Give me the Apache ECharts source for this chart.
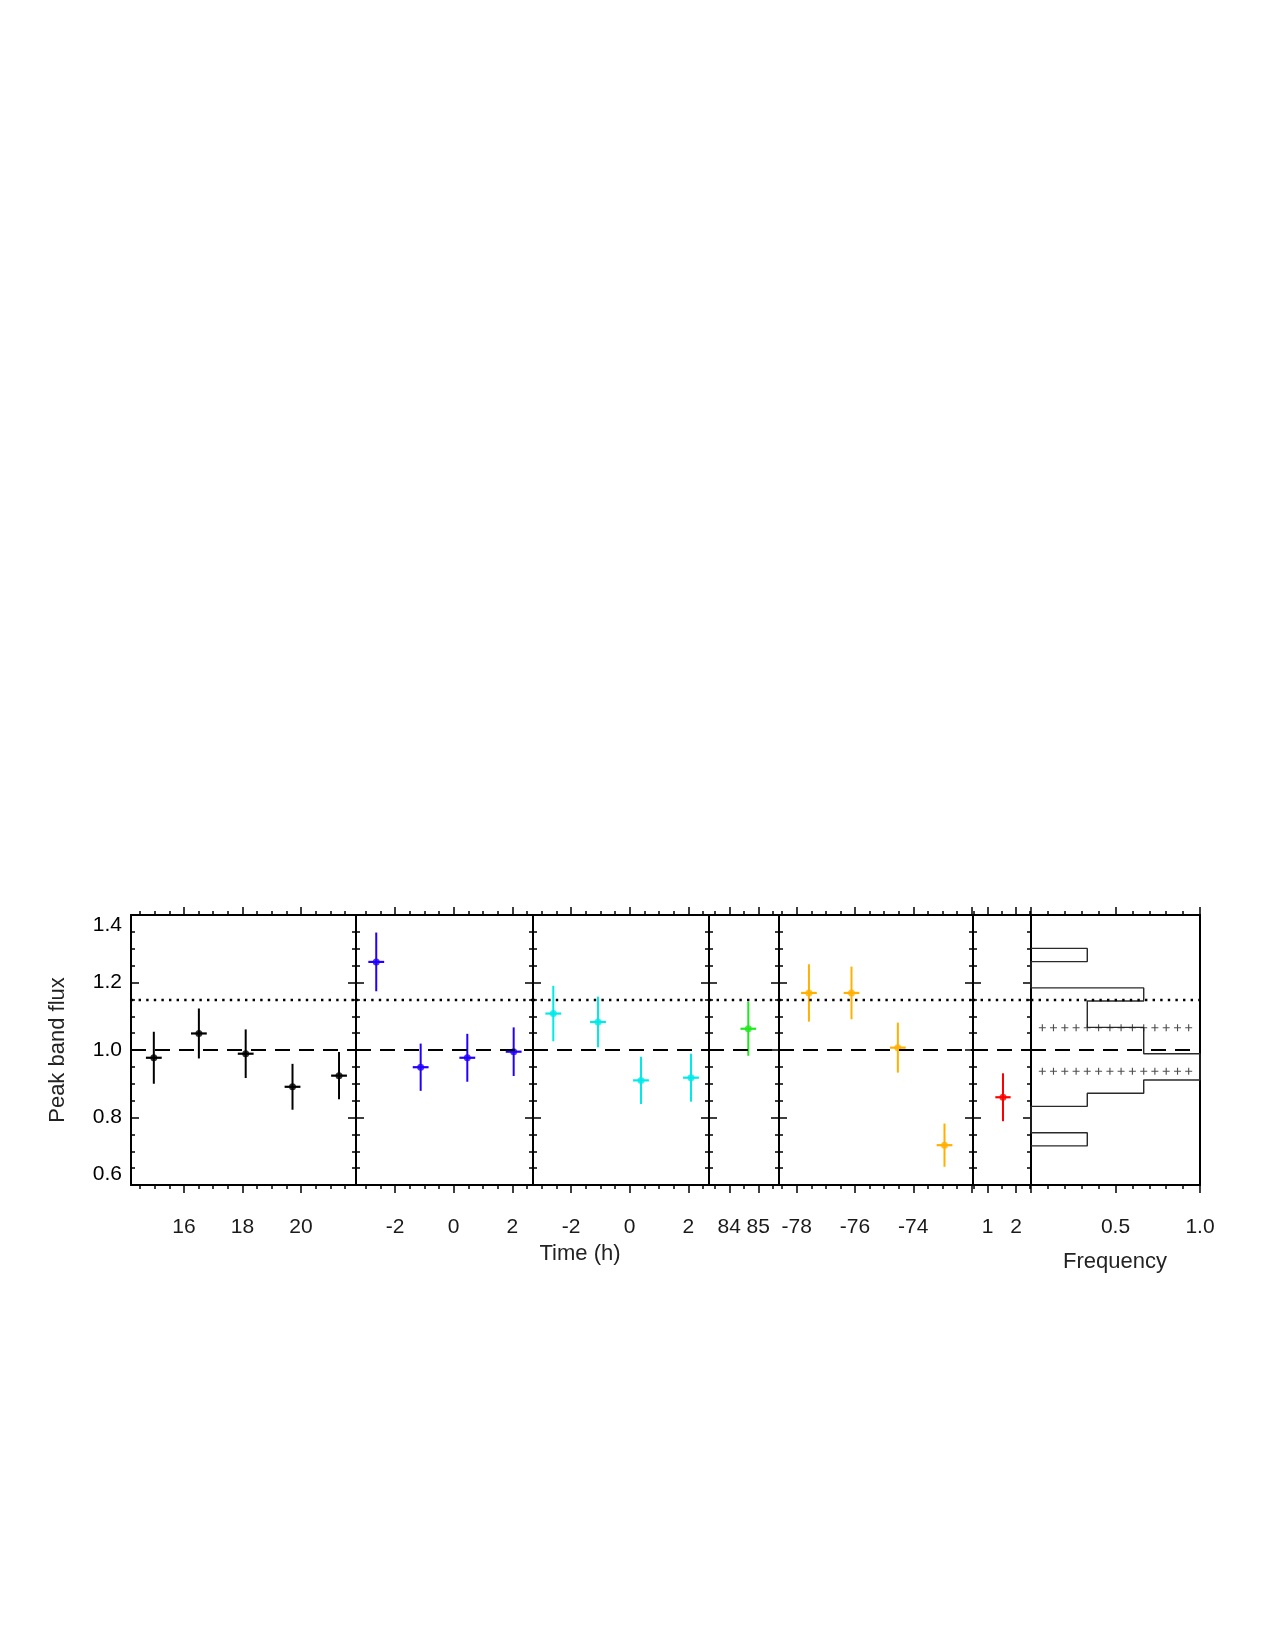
<!DOCTYPE html>
<html>
<head>
<meta charset="utf-8">
<script src="https://cdn.jsdelivr.net/npm/echarts@6/dist/echarts.min.js"></script>
<style>html,body{margin:0;padding:0;background:#fff}#c{width:1275px;height:1650px}</style>
</head>
<body>
<div id="c"></div>
<script>
// ---------------- DATA ----------------
// Panel 1 (black)
const p1Time = [14.97, 16.51, 18.11, 19.71, 21.30];
const p1Flux = [0.977, 1.049, 0.989, 0.891, 0.924];
const p1Err  = [0.077, 0.074, 0.072, 0.068, 0.070];
const p1Dt   = [0.27, 0.27, 0.27, 0.27, 0.27];
const p1Range = [14.19, 21.88];
const p1Ticks = [16, 18, 20];
// Panel 2 (blue)
const p2Time = [-2.64, -1.125, 0.465, 2.046];
const p2Flux = [1.261, 0.949, 0.977, 0.995];
const p2Err  = [0.087, 0.070, 0.071, 0.072];
const p2Dt   = [0.27, 0.27, 0.27, 0.27];
const p2Range = [-3.33, 2.705];
const p2Ticks = [-2, 0, 2];
// Panel 3 (cyan)
const p3Time = [-2.604, -1.08, 0.386, 2.091];
const p3Flux = [1.108, 1.083, 0.910, 0.918];
const p3Err  = [0.082, 0.075, 0.070, 0.071];
const p3Dt   = [0.27, 0.27, 0.27, 0.27];
const p3Range = [-3.296, 2.705];
const p3Ticks = [-2, 0, 2];
// Panel 4 (green)
const p4Time = [84.655];
const p4Flux = [1.063];
const p4Err  = [0.080];
const p4Dt   = [0.27];
const p4Range = [83.30, 85.714];
const p4Ticks = [84, 85];
// Panel 5 (orange)
const p5Time = [-77.58, -76.12, -74.53, -72.93];
const p5Flux = [1.169, 1.169, 1.007, 0.718];
const p5Err  = [0.085, 0.078, 0.074, 0.064];
const p5Dt   = [0.27, 0.27, 0.27, 0.27];
const p5Range = [-78.607, -71.952];
const p5Ticks = [-78, -76, -74, -72];
const p5Labels = [-78, -76, -74];
// Panel 6 (red)
const p6Time = [1.54];
const p6Flux = [0.860];
const p6Err  = [0.071];
const p6Dt   = [0.27];
const p6Range = [0.48, 2.53];
const p6Ticks = [1, 2];
// Histogram panel
const histEdges = [0.716, 0.755, 0.794, 0.833, 0.872, 0.911, 0.950, 0.989, 1.028, 1.067, 1.106, 1.145, 1.184, 1.223, 1.262, 1.301];
const histFreq  = [0.333, 0, 0, 0.333, 0.667, 1.0, 1.0, 0.667, 0.667, 0.333, 0.333, 0.667, 0, 0, 0.333];
const histRange = [0, 1];
const histTicks = [0, 0.5, 1.0];
const histLabels = [0.5, 1.0];
const plusLevels = [1.066, 0.937];
const plusFreqs = [0.067, 0.133, 0.2, 0.267, 0.333, 0.4, 0.467, 0.533, 0.6, 0.667, 0.733, 0.8, 0.867, 0.933];
// Reference levels and flux axis
const meanLevel = 1.0;
const upperLevel = 1.153;
const fluxRange = [0.6, 1.4];
const fluxTickStep = 0.2;

// ---------------- LAYOUT / STYLE ----------------
const FONT = '"Liberation Sans", Arial, Helvetica, sans-serif';
const lefts  = [131, 356, 533, 709, 779, 973, 1031];
const widths = [225, 177, 176, 70, 194, 58, 169];
const TOP = 915, H = 270;

const panels = [
  {time: p1Time, flux: p1Flux, err: p1Err, dt: p1Dt, color: '#000000', range: p1Range, ticks: p1Ticks, labels: p1Ticks, minor: 0.5},
  {time: p2Time, flux: p2Flux, err: p2Err, dt: p2Dt, color: '#2200ff', range: p2Range, ticks: p2Ticks, labels: p2Ticks, minor: 0.5},
  {time: p3Time, flux: p3Flux, err: p3Err, dt: p3Dt, color: '#00eaea', range: p3Range, ticks: p3Ticks, labels: p3Ticks, minor: 0.5},
  {time: p4Time, flux: p4Flux, err: p4Err, dt: p4Dt, color: '#1fe81f', range: p4Range, ticks: p4Ticks, labels: p4Ticks, minor: 0.5},
  {time: p5Time, flux: p5Flux, err: p5Err, dt: p5Dt, color: '#ffb000', range: p5Range, ticks: p5Ticks, labels: p5Labels, minor: 0.5},
  {time: p6Time, flux: p6Flux, err: p6Err, dt: p6Dt, color: '#ff0000', range: p6Range, ticks: p6Ticks, labels: p6Ticks, minor: 0.5},
  {hist: true, range: histRange, ticks: histTicks, labels: histLabels, minor: 0.1}
];

function stepTicks(min, max, step) {
  const a = [];
  for (let k = Math.ceil(min / step - 1e-9); k * step <= max + 1e-9; k++) a.push(+(k * step).toFixed(6));
  return a;
}

const tickLine = {color: '#000', width: 1.5};
const grids = [], xAxes = [], yAxes = [], series = [];

const refMarkLine = {
  silent: true,
  symbol: ['none', 'none'],
  label: {show: false},
  emphasis: {disabled: true},
  animation: false,
  data: [
    {yAxis: meanLevel, lineStyle: {type: [15, 9], width: 2, color: '#000'}},
    {yAxis: upperLevel, lineStyle: {type: [2.4, 5.2], width: 2.4, color: '#000'}}
  ]
};

panels.forEach((p, i) => {
  grids.push({left: lefts[i], top: TOP, width: widths[i], height: H, containLabel: false, outerBoundsMode: 'none'});
  const minorVals = stepTicks(p.range[0], p.range[1], p.minor);
  const fmt = p.hist ? (v => Number(v).toFixed(1)) : (v => String(v));
  const base = {type: 'value', gridIndex: i, min: p.range[0], max: p.range[1], splitLine: {show: false}};
  xAxes.push(
    Object.assign({}, base, {position: 'bottom',
      axisLine: {show: true, onZero: false, lineStyle: {color: '#000', width: 2}},
      axisTick: {show: true, inside: false, length: 8, customValues: p.ticks, lineStyle: tickLine},
      axisLabel: {show: true, customValues: p.labels, margin: 32, fontSize: 21, color: '#1a1a1a', fontFamily: FONT, formatter: fmt}}),
    Object.assign({}, base, {position: 'bottom',
      axisLine: {show: false, onZero: false},
      axisTick: {show: true, inside: false, length: 4, customValues: minorVals, lineStyle: tickLine},
      axisLabel: {show: false}}),
    Object.assign({}, base, {position: 'top',
      axisLine: {show: true, onZero: false, lineStyle: {color: '#000', width: 2}},
      axisTick: {show: true, inside: false, length: 8, customValues: p.ticks, lineStyle: tickLine},
      axisLabel: {show: false}}),
    Object.assign({}, base, {position: 'top',
      axisLine: {show: false, onZero: false},
      axisTick: {show: true, inside: false, length: 4, customValues: minorVals, lineStyle: tickLine},
      axisLabel: {show: false}})
  );
  ['left', 'right'].forEach(pos => {
    yAxes.push({
      type: 'value', gridIndex: i, position: pos, min: fluxRange[0], max: fluxRange[1], interval: fluxTickStep,
      axisLine: {show: true, onZero: false, lineStyle: {color: '#000', width: 2}},
      axisTick: {show: !p.hist, inside: true, length: 8, lineStyle: tickLine},
      minorTick: {show: !p.hist, splitNumber: 4, length: 4, lineStyle: tickLine},
      splitLine: {show: false}, minorSplitLine: {show: false},
      axisLabel: {show: i === 0 && pos === 'left', margin: 9, fontSize: 21, color: '#000', fontFamily: FONT,
        formatter: v => Number(v).toFixed(1), verticalAlignMinLabel: 'bottom', verticalAlignMaxLabel: 'top'}
    });
  });

  const xi = 4 * i, yi = 2 * i;
  if (!p.hist) {
    const color = p.color;
    series.push({
      type: 'custom', xAxisIndex: xi, yAxisIndex: yi, z: 3, silent: true,
      data: p.time.map((t, k) => [t, p.flux[k], p.err[k], p.dt[k]]),
      encode: {x: 0, y: 1},
      renderItem: (params, api) => {
        const x = api.value(0), y = api.value(1), ye = api.value(2), xe = api.value(3);
        const c = api.coord([x, y]);
        const t = api.coord([x, y + ye]), b = api.coord([x, y - ye]);
        const l = api.coord([x - xe, y]), r = api.coord([x + xe, y]);
        return {type: 'group', children: [
          {type: 'line', shape: {x1: c[0], y1: t[1], x2: c[0], y2: b[1]}, style: {stroke: color, lineWidth: 2}},
          {type: 'line', shape: {x1: l[0], y1: c[1], x2: r[0], y2: c[1]}, style: {stroke: color, lineWidth: 2.2}}
        ]};
      }
    });
    series.push({
      type: 'scatter', xAxisIndex: xi, yAxisIndex: yi, z: 4, silent: true,
      data: p.time.map((t, k) => [t, p.flux[k]]),
      symbol: 'circle', symbolSize: 7, itemStyle: {color: color},
      markLine: refMarkLine
    });
  } else {
    const path = [[0, histEdges[0]]];
    histFreq.forEach((f, k) => { path.push([f, histEdges[k]]); path.push([f, histEdges[k + 1]]); });
    path.push([0, histEdges[histEdges.length - 1]]);
    series.push({
      type: 'line', xAxisIndex: xi, yAxisIndex: yi, z: 3, silent: true,
      data: path, showSymbol: false, symbol: 'none', smooth: false,
      lineStyle: {color: '#2a2a2a', width: 1.4},
      markLine: refMarkLine
    });
    const plusData = [];
    plusLevels.forEach(lv => plusFreqs.forEach(f => plusData.push([f, lv])));
    series.push({
      type: 'scatter', xAxisIndex: xi, yAxisIndex: yi, z: 4, silent: true,
      data: plusData,
      symbol: 'path://M-1,-0.16L1,-0.16L1,0.16L-1,0.16ZM-0.16,-1L0.16,-1L0.16,1L-0.16,1Z',
      symbolSize: 7, itemStyle: {color: '#222'}
    });
  }
});

const chart = echarts.init(document.getElementById('c'), null, {renderer: 'canvas'});
chart.setOption({
  animation: false,
  backgroundColor: '#ffffff',
  grid: grids,
  xAxis: xAxes,
  yAxis: yAxes,
  series: series,
  graphic: [
    {type: 'text', x: 58, y: 1050, rotation: Math.PI / 2,
     style: {text: 'Peak band flux', fontSize: 22, fontFamily: FONT, fill: '#222', align: 'center', verticalAlign: 'middle'}},
    {type: 'text', x: 580, y: 1254,
     style: {text: 'Time (h)', fontSize: 22, fontFamily: FONT, fill: '#222', align: 'center', verticalAlign: 'middle'}},
    {type: 'text', x: 1115, y: 1262,
     style: {text: 'Frequency', fontSize: 22, fontFamily: FONT, fill: '#222', align: 'center', verticalAlign: 'middle'}}
  ]
});
</script>
</body>
</html>
